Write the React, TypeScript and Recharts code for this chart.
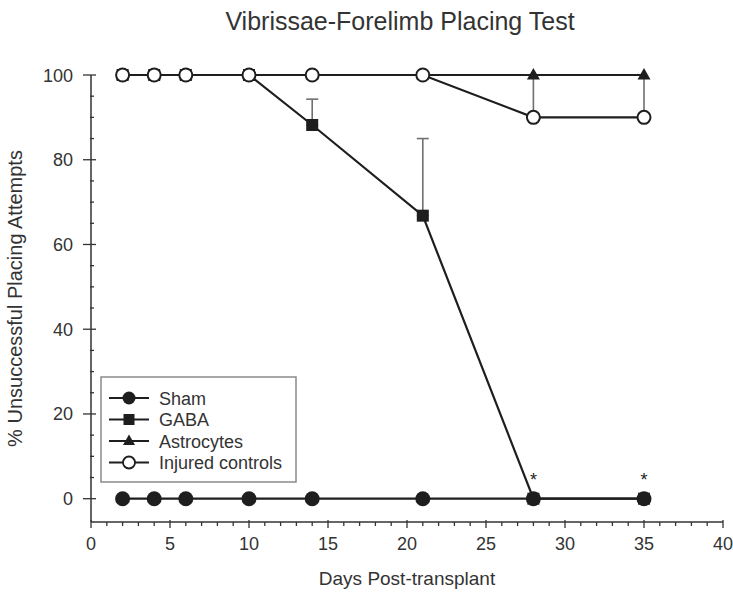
import React from 'react';
import { LineChart, Line, XAxis, YAxis, ErrorBar, Label, LabelList } from 'recharts';

const days = [2, 4, 6, 10, 14, 21, 28, 35];
const sham = [0, 0, 0, 0, 0, 0, 0, 0];
const gaba = [100, 100, 100, 100, 88.2, 66.8, 0, 0];
const gabaErrUp = [null, null, null, null, 6.1, 18.2, null, null];
const astrocytes = [100, 100, 100, 100, 100, 100, 100, 100];
const injured = [100, 100, 100, 100, 100, 100, 90, 90];
const injuredErrUp = [null, null, null, null, null, null, 10, 10];
const sigMarks = ['', '', '', '', '', '', '*', '*'];

const xTicks = Array.from({ length: 41 }, (_, i) => i);
const yTicks = Array.from({ length: 21 }, (_, i) => i * 5);

const seriesNames = ['Sham', 'GABA', 'Astrocytes', 'Injured controls'];

const data = days.map((d, i) => ({
  day: d,
  sham: sham[i],
  gaba: gaba[i],
  gabaErr: gabaErrUp[i] == null ? null : [0, gabaErrUp[i]],
  astro: astrocytes[i],
  injured: injured[i],
  injuredErr: injuredErrUp[i] == null ? null : [0, injuredErrUp[i]],
  sig: sigMarks[i],
}));

const FONT = 'Arial, "Liberation Sans", Helvetica, sans-serif';
const INK = '#1e1e1e';
const TEXT = '#333';

const CircleFilled = (props: any) => {
  const { cx, cy, key } = props;
  if (cx == null || cy == null) return null;
  return <circle key={key} cx={cx} cy={cy} r={7.5} fill={INK} />;
};
const SquareDot = (props: any) => {
  const { cx, cy, key } = props;
  if (cx == null || cy == null) return null;
  return <rect key={key} x={cx - 6} y={cy - 6} width={12} height={12} fill={INK} />;
};
const TriangleDot = (props: any) => {
  const { cx, cy, key } = props;
  if (cx == null || cy == null) return null;
  return <path key={key} d={`M${cx},${cy - 7} L${cx + 6.5},${cy + 4.5} L${cx - 6.5},${cy + 4.5} Z`} fill={INK} />;
};
const CircleOpen = (props: any) => {
  const { cx, cy, key } = props;
  if (cx == null || cy == null) return null;
  return <circle key={key} cx={cx} cy={cy} r={6.5} fill="#fff" stroke={INK} strokeWidth={2} />;
};

const XTick = (props: any) => {
  const { x, y, payload } = props;
  const v = payload.value;
  const major = v % 5 === 0;
  return (
    <g>
      <line x1={x} x2={x} y1={y - (major ? 2 : 0)} y2={y + (major ? 6 : 4)} stroke={TEXT} strokeWidth={1.3} />
      {major && (
        <text x={x} y={y + 28} textAnchor="middle" fontSize={18} fontFamily={FONT} fill={TEXT}>
          {v}
        </text>
      )}
    </g>
  );
};

const YTick = (props: any) => {
  const { x, y, payload } = props;
  const v = payload.value;
  const major = v % 20 === 0;
  return (
    <g>
      <line x1={x - (major ? 8 : 1)} x2={x + (major ? 5 : 3)} y1={y} y2={y} stroke={TEXT} strokeWidth={1.3} />
      {major && (
        <text x={x - 18} y={y + 6.5} textAnchor="end" fontSize={18} fontFamily={FONT} fill={TEXT}>
          {v}
        </text>
      )}
    </g>
  );
};

const legendMarkers = [
  (cx: number, cy: number) => <circle cx={cx} cy={cy} r={6.5} fill={INK} />,
  (cx: number, cy: number) => <rect x={cx - 5.5} y={cy - 5.5} width={11} height={11} fill={INK} />,
  (cx: number, cy: number) => <path d={`M${cx},${cy - 6.5} L${cx + 6},${cy + 4} L${cx - 6},${cy + 4} Z`} fill={INK} />,
  (cx: number, cy: number) => <circle cx={cx} cy={cy} r={6} fill="#fff" stroke={INK} strokeWidth={1.8} />,
];

const LegendBox = () => (
  <svg width={198} height={108} style={{ display: 'block' }}>
    <rect x={1} y={1} width={195} height={105} fill="#fff" stroke="#8a8a8a" strokeWidth={1.5} />
    {seriesNames.map((name, i) => {
      const cy = 22 + i * 21.5;
      return (
        <g key={name}>
          <line x1={9} x2={49} y1={cy} y2={cy} stroke={INK} strokeWidth={2.2} />
          {legendMarkers[i](29, cy)}
          <text x={59} y={cy + 6.5} fontSize={18} fontFamily={FONT} fill={TEXT}>
            {name}
          </text>
        </g>
      );
    })}
  </svg>
);

const SigLabel = (props: any) => {
  const { x, y, value } = props;
  if (!value) return null;
  return (
    <text x={x} y={y - 13} textAnchor="middle" fontSize={18} fontFamily={FONT} fill={INK}>
      {value}
    </text>
  );
};

export default function App() {
  return (
    <div style={{ position: 'absolute', left: 0, top: 0, width: 733, height: 593, background: '#fff' }}>
      <div
        style={{
          position: 'absolute',
          left: 0,
          width: 800,
          top: 6,
          textAlign: 'center',
          fontFamily: FONT,
          fontSize: 25,
          color: TEXT,
          lineHeight: '30px',
        }}
      >
        Vibrissae-Forelimb Placing Test
      </div>
      <LineChart width={733} height={593} data={data} margin={{ top: 75, right: 10, bottom: 0, left: 0 }}>
        <XAxis
          dataKey="day"
          type="number"
          domain={[0, 40]}
          ticks={xTicks}
          interval={0}
          tickSize={0}
          tickMargin={0}
          tickLine={false}
          tick={<XTick />}
          height={71}
          axisLine={{ stroke: TEXT, strokeWidth: 1.5 }}
        >
          <Label
            content={(p: any) => {
              const vb = p.viewBox;
              return (
                <text x={vb.x + vb.width / 2} y={vb.y + 63} textAnchor="middle" fontSize={19} fontFamily={FONT} fill={TEXT}>
                  Days Post-transplant
                </text>
              );
            }}
          />
        </XAxis>
        <YAxis
          type="number"
          domain={[-5.5, 100]}
          ticks={yTicks}
          interval={0}
          tickSize={0}
          tickMargin={0}
          tickLine={false}
          tick={<YTick />}
          width={91}
          axisLine={{ stroke: TEXT, strokeWidth: 1.5 }}
        >
          <Label
            content={(p: any) => {
              const vb = p.viewBox;
              const cx = vb.x + 22;
              const cy = vb.y + vb.height / 2;
              return (
                <text
                  x={cx}
                  y={cy}
                  transform={`rotate(-90 ${cx} ${cy})`}
                  textAnchor="middle"
                  fontSize={20}
                  fontFamily={FONT}
                  fill={TEXT}
                >
                  % Unsuccessful Placing Attempts
                </text>
              );
            }}
          />
        </YAxis>
        <Line
          dataKey="sham"
          name="Sham"
          stroke={INK}
          strokeWidth={2.2}
          dot={<CircleFilled />}
          activeDot={false}
          isAnimationActive={false}
        />
        <Line
          dataKey="gaba"
          name="GABA"
          stroke={INK}
          strokeWidth={2.2}
          dot={<SquareDot />}
          activeDot={false}
          isAnimationActive={false}
        >
          <ErrorBar dataKey="gabaErr" direction="y" width={6} stroke="#707070" strokeWidth={1.6} />
          <LabelList dataKey="sig" content={<SigLabel />} />
        </Line>
        <Line
          dataKey="astro"
          name="Astrocytes"
          stroke={INK}
          strokeWidth={2.2}
          dot={<TriangleDot />}
          activeDot={false}
          isAnimationActive={false}
        />
        <Line
          dataKey="injured"
          name="Injured controls"
          stroke={INK}
          strokeWidth={2.2}
          dot={<CircleOpen />}
          activeDot={false}
          isAnimationActive={false}
        >
          <ErrorBar dataKey="injuredErr" direction="y" width={0} stroke="#707070" strokeWidth={1.6} />
        </Line>
      </LineChart>
      <div style={{ position: 'absolute', left: 100, top: 376 }}>
        <LegendBox />
      </div>
    </div>
  );
}
